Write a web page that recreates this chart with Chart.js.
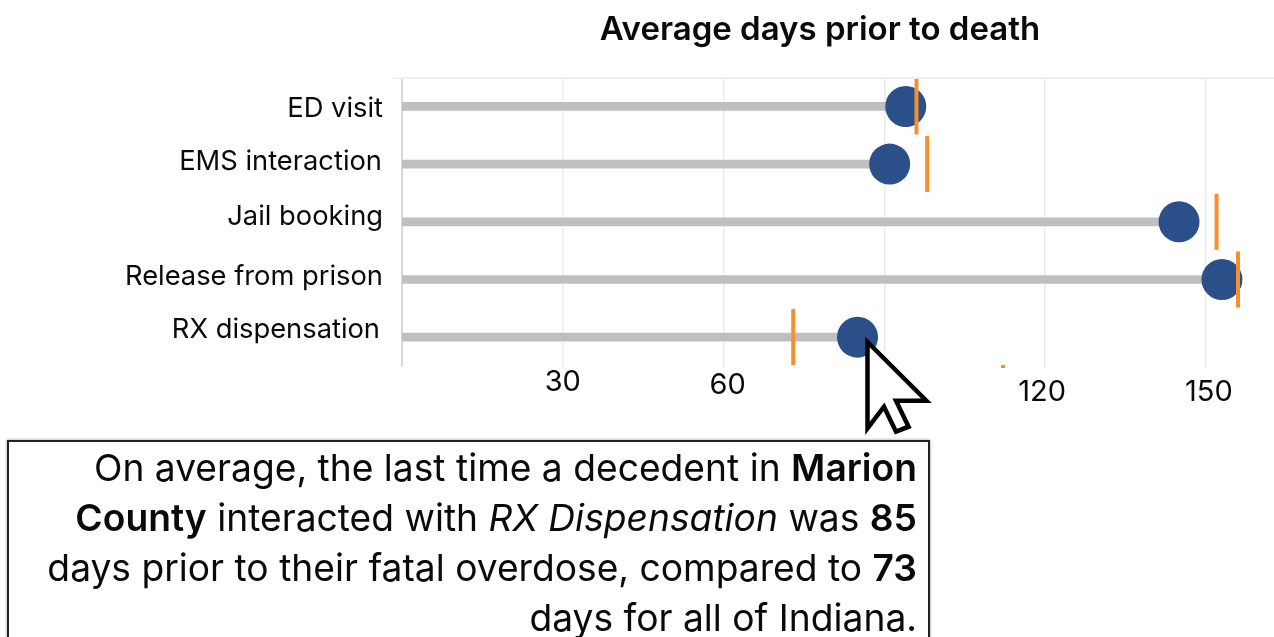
<!DOCTYPE html>
<html><head><meta charset="utf-8">
<style>
html,body{margin:0;padding:0;background:#fff;overflow:hidden}
#wrap{position:relative;width:1274px;height:637px;font-family:Inter,sans-serif}
canvas{position:absolute;left:0;top:0}
#rule{position:absolute;left:393px;top:77px;width:881px;height:2px;background:#efefef}
#speck{position:absolute;left:1001px;top:365px;width:4px;height:3px;background:#f5902f}
#cursor{position:absolute;left:0;top:0;pointer-events:none}
#note{position:absolute;left:7px;top:440px;width:923px;height:210px;border:2px solid #222;background:#fff;box-sizing:border-box;
 box-shadow:0 0 3px rgba(0,0,0,.4);padding:1px 11px 0 0;text-align:right;font-size:37.2px;line-height:50px;color:#0a0a0a;white-space:nowrap}
#note b{font-weight:600}
</style></head><body>
<div id="wrap">
<canvas id="c" width="1274" height="637"></canvas>
<div id="rule"></div><div id="speck"></div>
<div id="note">On average, the last time a decedent in <b>Marion</b><br><b>County</b> interacted with <i>RX Dispensation</i> was <b>85</b><br>days prior to their fatal overdose, compared to <b>73</b><br>days for all of Indiana.</div>
<svg id="cursor" width="1274" height="637"><polygon points="867.5,342 926.4,400.7 896,400.7 908.6,426.7 896,431.7 884,406.7 867.5,428.3" fill="#fff" stroke="#000" stroke-width="4.5" stroke-linejoin="miter"/></svg>
</div>
<script src="https://cdn.jsdelivr.net/npm/chart.js@4/dist/chart.umd.min.js"></script>
<script>
const categories = ['ED visit','EMS interaction','Jail booking','Release from prison','RX dispensation'];
const countyValues = [94,91,145,153,85];
const stateValues = [96,98,152,156,73];
const xTicks = [30,60,120,150];
const gridTicks = [30,60,90,120,150];
const xLabelShift = {30:[0,0],60:[4,3],120:[-3,10],150:[3,10]};
const yLabelShift = [[0,2],[-1,-2],[0,-5],[0,-3],[-3,-7]];

const shiftLabels = {
  id:'shiftLabels',
  beforeDraw(chart){
    const xs = chart.scales.x, ys = chart.scales.y;
    xs.getLabelItems(chart.chartArea).forEach(it=>{
      const s = xLabelShift[it.label]; if(!s) return;
      it.options.translation = [it.options.translation[0]+s[0], it.options.translation[1]+s[1]];
    });
    ys.getLabelItems(chart.chartArea).forEach((it,i)=>{
      const s = yLabelShift[i];
      it.options.translation = [it.options.translation[0]+s[0], it.options.translation[1]+s[1]];
    });
  }
};

new Chart(document.getElementById('c'),{
  data:{labels:categories,datasets:[
    {type:'scatter',label:'Indiana',order:1,clip:false,
     data:stateValues.map((v,i)=>({x:v,y:categories[i]})),
     pointStyle:'line',rotation:90,pointRadius:28,pointBorderColor:'#f5902f',pointBorderWidth:4,pointBackgroundColor:'#f5902f',showLine:false},
    {type:'scatter',label:'Marion County',order:2,clip:false,
     data:countyValues.map((v,i)=>({x:v,y:categories[i]})),
     pointStyle:'circle',pointRadius:20.5,pointBackgroundColor:'#2b4f89',pointBorderColor:'#2b4f89',pointBorderWidth:0,showLine:false},
    {type:'bar',label:'Days',order:3,data:countyValues,backgroundColor:'#bfbfbf',barThickness:8,xAxisID:'x',yAxisID:'y'}
  ]},
  options:{
    indexAxis:'y',responsive:false,animation:false,
    layout:{padding:{right:36,left:0,top:0,bottom:0}},
    plugins:{
      legend:{display:false},tooltip:{enabled:false},
      title:{display:true,fullSize:false,text:'Average days prior to death',color:'#0a0a0a',
        font:{family:'Inter',size:33,weight:'600'},padding:{top:10,bottom:28}}
    },
    scales:{
      x:{type:'linear',min:0,max:156,position:'bottom',
        afterBuildTicks(s){s.ticks=gridTicks.map(v=>({value:v}));},
        afterFit(s){s.height=271;},
        grid:{color:'#ececec',lineWidth:1.5,drawTicks:true,tickLength:2,tickColor:'#ececec'},
        border:{display:false},
        ticks:{color:'#0a0a0a',font:{family:'Inter',size:29},padding:-3,maxRotation:0,autoSkip:false,
          callback:v=>xTicks.includes(v)?String(v):''}},
      y:{type:'category',position:'left',
        afterFit(s){s.width=402;},
        grid:{display:false},
        border:{display:true,color:'#d9d9d9',width:2},
        ticks:{color:'#0a0a0a',font:{family:'Inter',size:27.3},padding:11,crossAlign:'near'}}
    }
  },
  plugins:[shiftLabels]
});
</script>
</body></html>
